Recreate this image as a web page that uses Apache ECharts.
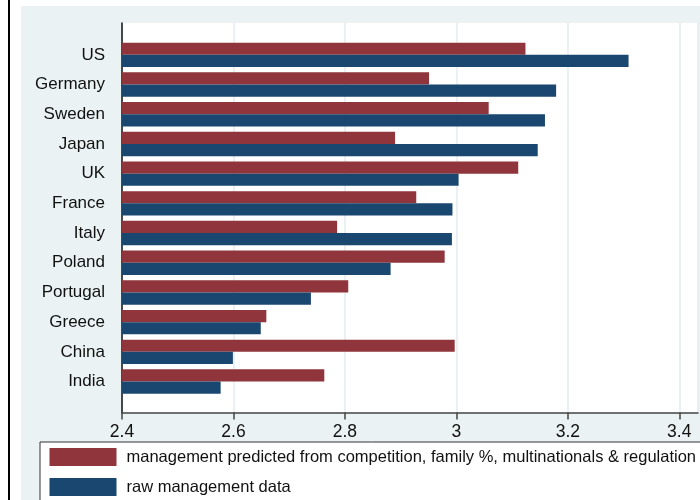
<!DOCTYPE html>
<html>
<head>
<meta charset="utf-8">
<script src="https://cdn.jsdelivr.net/npm/echarts@6/dist/echarts.min.js"></script>
<style>
  html, body { margin: 0; padding: 0; background: #fff; }
  #chart { width: 700px; height: 500px; }
</style>
</head>
<body>
<div id="chart"></div>
<script>
// countries, top to bottom
var countries = ['US', 'Germany', 'Sweden', 'Japan', 'UK', 'France', 'Italy', 'Poland', 'Portugal', 'Greece', 'China', 'India'];
// management predicted from competition, family %, multinationals & regulation
var predicted = [3.124, 2.951, 3.058, 2.890, 3.111, 2.928, 2.786, 2.979, 2.806, 2.659, 2.997, 2.763];
// raw management data
var raw = [3.309, 3.179, 3.159, 3.146, 3.004, 2.993, 2.992, 2.882, 2.739, 2.649, 2.599, 2.577];
var xTicks = [2.4, 2.6, 2.8, 3, 3.2, 3.4];

var predictedName = 'management predicted from competition, family %, multinationals & regulation';
var rawName = 'raw management data';

var font = 'Liberation Sans, Arial, sans-serif';
var xMin = 2.4, xMax = 3.4336;

var chart = echarts.init(document.getElementById('chart'));

var option = {
  backgroundColor: '#fff',
  animation: false,
  graphic: {
    elements: [
      { type: 'rect', z: -10, shape: { x: 21, y: 6, width: 700, height: 500 }, style: { fill: '#eaf2f3' } },
      { type: 'line', z: -10, shape: { x1: 9, y1: 0, x2: 9, y2: 500 }, style: { stroke: '#000', lineWidth: 2 } }
    ]
  },
  grid: [
    // plot region with x axis and gridlines
    { left: 122, right: 2, top: 23, bottom: 87.5, show: true, backgroundColor: '#fff', borderWidth: 0 },
    // bars
    { left: 122, right: 2, top: 40, bottom: 103.6 }
  ],
  xAxis: [
    {
      gridIndex: 0, type: 'value', min: xMin, max: xMax, interval: 0.2,
      axisLine: { show: true, lineStyle: { color: '#444', width: 1.5 } },
      axisTick: { show: true, length: 7, lineStyle: { color: '#444', width: 1.5 } },
      axisLabel: {
        margin: 11, fontFamily: font, fontSize: 17.5, color: '#111',
        formatter: function (v) { return xTicks.indexOf(Math.round(v * 10) / 10) >= 0 ? String(Math.round(v * 10) / 10) : ''; }
      },
      splitLine: { show: true, lineStyle: { color: '#e3ebef', width: 1.5 } }
    },
    { gridIndex: 1, type: 'value', min: xMin, max: xMax, show: false }
  ],
  yAxis: [
    {
      gridIndex: 0, type: 'value', min: 0, max: 1,
      axisLine: { show: true, lineStyle: { color: '#111', width: 1.5 } },
      axisTick: { show: false }, axisLabel: { show: false }, splitLine: { show: false }
    },
    {
      gridIndex: 1, type: 'category', data: countries, inverse: true,
      axisLine: { show: false }, axisTick: { show: false },
      axisLabel: { margin: 17, fontFamily: font, fontSize: 17, color: '#111' }
    }
  ],
  legend: {
    orient: 'vertical', left: 40, top: 442, height: 100,
    padding: [6, 20, 20, 9.5],
    backgroundColor: '#fff', borderColor: '#333', borderWidth: 1,
    itemWidth: 67, itemHeight: 18, itemGap: 12,
    icon: 'rect',
    textStyle: { fontFamily: font, fontSize: 16.5, color: '#111', lineHeight: 18, padding: [0, 0, 0, 5] },
    data: [predictedName, rawName]
  },
  series: [
    {
      name: predictedName, type: 'bar', xAxisIndex: 1, yAxisIndex: 1,
      data: predicted, barWidth: 12.2, barGap: '0%',
      itemStyle: { color: '#90353b' }
    },
    {
      name: rawName, type: 'bar', xAxisIndex: 1, yAxisIndex: 1,
      data: raw, barWidth: 12.2, barGap: '0%',
      itemStyle: { color: '#1a476f' }
    }
  ]
};

chart.setOption(option);
</script>
</body>
</html>
